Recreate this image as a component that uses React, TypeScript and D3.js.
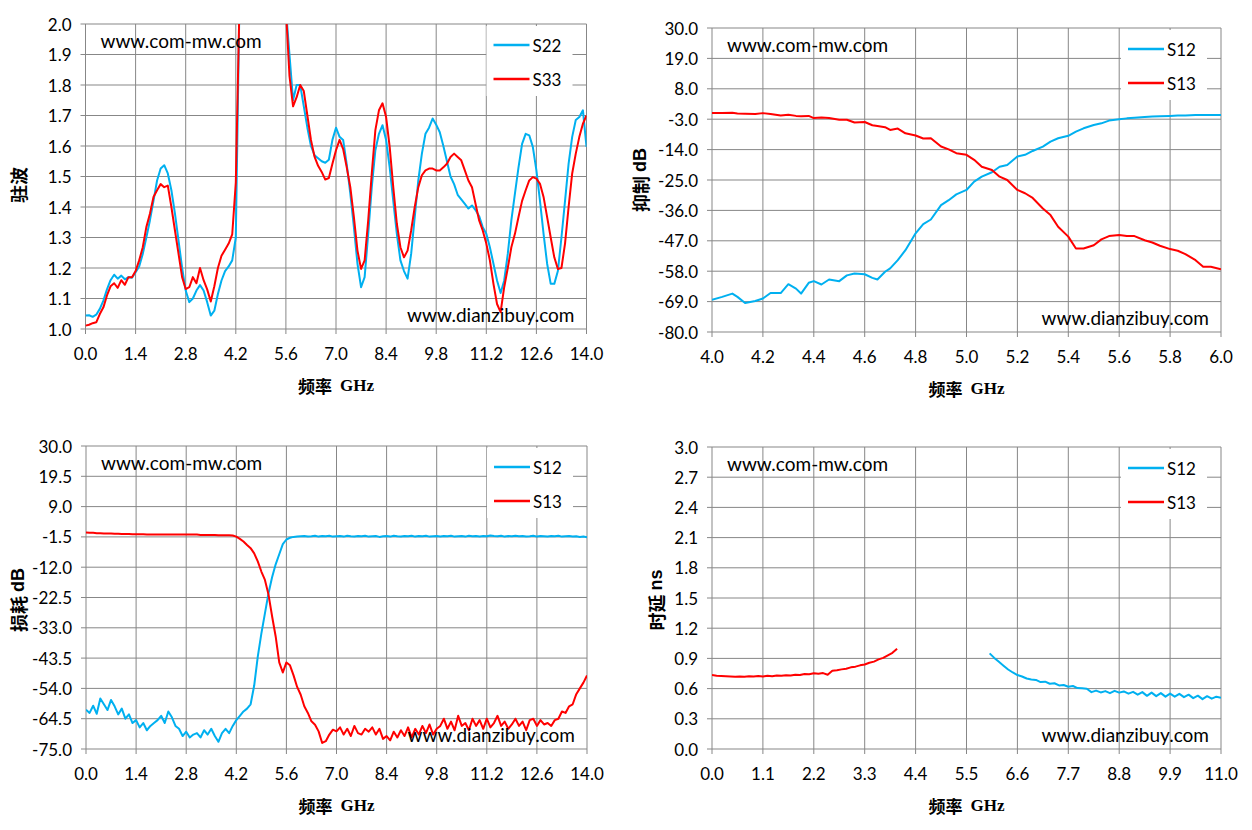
import * as d3 from "d3";

// ---------- data ----------
const BLUE = "#00B0F0";
const RED = "#FF0000";

// panel 1: VSWR 0-14 GHz, 0.1 GHz sweep
const VSWR_S22 = [
  1.044, 1.045, 1.04, 1.047, 1.066, 1.093, 1.13, 1.16, 1.178, 1.165,
  1.175, 1.163, 1.17, 1.168, 1.186, 1.205, 1.246, 1.3, 1.356, 1.42,
  1.487, 1.526, 1.537, 1.51, 1.455, 1.378, 1.29, 1.2, 1.126, 1.088,
  1.1, 1.126, 1.144, 1.126, 1.088, 1.044, 1.06, 1.115, 1.159, 1.19,
  1.205, 1.225, 1.3, 2.05,
  null, null, null, null, null, null, null, null, null, null, null, null,
  2.05, 1.9, 1.75, 1.8, 1.8, 1.73, 1.66, 1.6, 1.57, 1.56,
  1.55, 1.545, 1.555, 1.62, 1.66, 1.63, 1.62, 1.54, 1.444, 1.334,
  1.214, 1.137, 1.17, 1.312, 1.465, 1.586, 1.64, 1.668, 1.62, 1.53,
  1.42, 1.312, 1.225, 1.19, 1.165, 1.246, 1.367, 1.487, 1.575, 1.64,
  1.66, 1.69, 1.67, 1.645, 1.6, 1.55, 1.5, 1.475, 1.44, 1.425,
  1.41, 1.395, 1.405, 1.39, 1.37, 1.334, 1.312, 1.268, 1.214, 1.159,
  1.118, 1.159, 1.246, 1.356, 1.444, 1.53, 1.607, 1.64, 1.635, 1.597,
  1.52, 1.42, 1.312, 1.214, 1.148, 1.148, 1.19, 1.3, 1.42, 1.542,
  1.63, 1.685, 1.695, 1.717, 1.597,
];
const VSWR_S33 = [
  1.011, 1.014, 1.019, 1.022, 1.049, 1.071, 1.11, 1.14, 1.15, 1.135,
  1.16, 1.145, 1.17, 1.17, 1.19, 1.225, 1.268, 1.334, 1.378, 1.433,
  1.455, 1.475, 1.465, 1.47, 1.4, 1.323, 1.246, 1.17, 1.131, 1.137,
  1.17, 1.15, 1.2, 1.16, 1.13, 1.09, 1.14, 1.2, 1.24, 1.26,
  1.28, 1.31, 1.48, 2.05,
  null, null, null, null, null, null, null, null, null, null, null, null,
  2.05, 1.83, 1.73, 1.76, 1.8, 1.78, 1.7, 1.62, 1.565, 1.535,
  1.515, 1.49, 1.495, 1.542, 1.586, 1.62, 1.59, 1.53, 1.465, 1.367,
  1.257, 1.197, 1.225, 1.356, 1.51, 1.652, 1.717, 1.74, 1.695, 1.597,
  1.465, 1.345, 1.268, 1.235, 1.257, 1.323, 1.4, 1.465, 1.504, 1.52,
  1.526, 1.526, 1.52, 1.52, 1.53, 1.542, 1.564, 1.575, 1.564, 1.553,
  1.52, 1.487, 1.465, 1.41, 1.356, 1.323, 1.28, 1.225, 1.148, 1.082,
  1.055, 1.137, 1.2, 1.268, 1.312, 1.367, 1.42, 1.455, 1.487, 1.498,
  1.493, 1.476, 1.433, 1.367, 1.3, 1.235, 1.197, 1.2, 1.28, 1.4,
  1.51, 1.575, 1.63, 1.673, 1.7,
];

// panel 2: rejection 4-6 GHz (irregular read points)
const REJ_FREQ = [
  4.0, 4.04, 4.08, 4.1, 4.13, 4.17, 4.2, 4.23, 4.27, 4.3,
  4.33, 4.35, 4.38, 4.4, 4.43, 4.46, 4.5, 4.53, 4.56, 4.6,
  4.63, 4.65, 4.68, 4.7, 4.73, 4.76, 4.8, 4.83, 4.86, 4.9,
  4.93, 4.96, 5.0, 5.03, 5.06, 5.1, 5.13, 5.16, 5.2, 5.23,
  5.26, 5.3, 5.33, 5.36, 5.4, 5.43, 5.46, 5.5, 5.53, 5.56,
  5.6, 5.63, 5.66, 5.7, 5.73, 5.76, 5.8, 5.83, 5.86, 5.9,
  5.93, 5.96, 6.0,
];
const REJ_S12 = [
  -68.3, -67.3, -66.1, -67.3, -69.5, -68.8, -67.9, -65.9, -65.9, -62.7,
  -64.3, -66.1, -62.2, -61.6, -62.8, -61.0, -61.6, -59.5, -58.8, -59.1,
  -60.4, -61.0, -58.2, -57.0, -54.0, -50.4, -44.3, -41.0, -39.3, -34.1,
  -32.3, -30.2, -28.6, -25.6, -23.8, -22.2, -20.2, -19.6, -16.5, -15.9,
  -14.5, -12.9, -11.1, -9.9, -9.0, -7.5, -6.3, -5.1, -4.5, -3.5,
  -3.0, -2.7, -2.5, -2.2, -2.0, -1.9, -1.8, -1.7, -1.7, -1.5,
  -1.5, -1.5, -1.5,
];
const REJ_S13 = [
  -0.8, -0.8, -0.7, -0.9, -1.0, -1.1, -0.8, -1.1, -1.7, -1.4,
  -1.8, -1.9, -1.8, -2.6, -2.4, -2.6, -3.2, -3.2, -4.2, -4.0,
  -5.2, -5.5, -5.9, -6.9, -6.4, -8.1, -8.9, -10.0, -9.9, -12.9,
  -13.9, -15.3, -15.9, -17.7, -20.2, -21.4, -23.8, -25.0, -28.6, -29.8,
  -31.5, -35.3, -37.7, -41.9, -45.5, -49.8, -49.8, -48.6, -46.5, -45.3,
  -44.9, -45.3, -45.3, -46.8, -47.6, -48.8, -50.0, -50.6, -51.8, -54.0,
  -56.4, -56.4, -57.3,
];

// panel 3: insertion loss 0-14 GHz, 0.1 GHz sweep
const LOSS_S12 = [
  -61.4, -62.5, -60.0, -62.8, -57.5, -59.5, -61.5, -58.0, -60.2, -63.0,
  -61.0, -64.5, -63.0, -66.0, -65.0, -67.5, -66.0, -68.5, -67.0, -66.0,
  -65.0, -63.5, -66.0, -62.0, -64.0, -67.0, -68.0, -70.5, -69.0, -71.0,
  -70.0, -69.5, -71.0, -68.5, -70.0, -68.0, -70.5, -72.5, -69.5, -68.0,
  -69.5, -67.0, -65.0, -63.5, -62.0, -61.0, -59.5, -53.0, -43.0, -35.0,
  -28.0, -21.0, -15.5, -11.0, -7.5, -4.0, -2.4, -1.8, -1.5, -1.4,
  -1.3, -1.2, -1.4, -1.3, -1.1, -1.4, -1.2, -1.3, -1.1, -1.4,
  -1.3, -1.2, -1.4, -1.1, -1.3, -1.4, -1.2, -1.3, -1.1, -1.4,
  -1.3, -1.2, -1.5, -1.3, -1.2, -1.4, -1.1, -1.3, -1.4, -1.2,
  -1.3, -1.1, -1.4, -1.2, -1.3, -1.1, -1.4, -1.3, -1.2, -1.4,
  -1.2, -1.3, -1.1, -1.4, -1.3, -1.2, -1.4, -1.1, -1.3, -1.2,
  -1.4, -1.2, -1.3, -1.0, -1.2, -1.3, -1.1, -1.4, -1.2, -1.3,
  -1.1, -1.3, -1.2, -1.4, -1.3, -1.1, -1.4, -1.2, -1.3, -1.4,
  -1.2, -1.3, -1.1, -1.4, -1.3, -1.2, -1.4, -1.3, -1.5, -1.4,
  -1.6,
];
const LOSS_S13 = [
  0.0, -0.1, -0.1, -0.2, -0.2, -0.3, -0.3, -0.3, -0.4, -0.4,
  -0.5, -0.5, -0.5, -0.6, -0.6, -0.6, -0.6, -0.7, -0.7, -0.7,
  -0.7, -0.7, -0.7, -0.7, -0.7, -0.7, -0.7, -0.7, -0.7, -0.7,
  -0.7, -0.7, -0.8, -0.8, -0.8, -0.8, -0.8, -0.9, -0.9, -0.9,
  -0.9, -1.0, -1.4, -2.2, -3.1, -4.3, -5.4, -7.2, -10.0, -13.5,
  -16.4, -21.5, -29.0, -36.0, -45.0, -48.5, -45.0, -46.0, -49.5, -53.5,
  -56.2, -60.2, -62.5, -65.4, -66.6, -68.9, -72.9, -72.3, -70.0, -68.3,
  -68.9, -67.5, -70.0, -68.0, -70.5, -67.0, -69.5, -70.0, -68.0, -69.0,
  -67.5, -70.0, -68.0, -71.5, -70.5, -72.0, -69.0, -71.0, -68.5, -70.5,
  -67.5, -71.0, -68.0, -70.0, -67.0, -69.5, -66.5, -70.0, -68.0, -67.0,
  -64.5, -68.0, -65.5, -68.5, -63.5, -67.0, -66.0, -68.5, -64.5, -67.0,
  -65.0, -68.0, -64.5, -67.5, -66.0, -63.5, -67.0, -65.5, -68.0, -66.5,
  -64.5, -67.0, -65.5, -68.5, -65.0, -64.5, -67.0, -65.0, -66.5, -66.0,
  -67.0, -65.0, -64.5, -62.0, -62.5, -60.2, -59.5, -56.0, -54.0, -52.0,
  -49.5,
];

// panel 4: group delay, 0.1 GHz sweep
const DELAY_S13 = [
  0.735, 0.728, 0.725, 0.722, 0.72, 0.718, 0.72, 0.718, 0.722, 0.72,
  0.724, 0.72, 0.727, 0.723, 0.73, 0.727, 0.733, 0.73, 0.738, 0.735,
  0.745, 0.742, 0.752, 0.748, 0.754, 0.738, 0.778, 0.782, 0.791, 0.798,
  0.811, 0.818, 0.831, 0.84, 0.857, 0.868, 0.89, 0.905, 0.93, 0.955,
  0.995,
];
const DELAY_S12 = [
  0.95, 0.905, 0.867, 0.828, 0.79, 0.76, 0.735, 0.72, 0.7, 0.69,
  0.686, 0.665, 0.669, 0.648, 0.653, 0.632, 0.636, 0.618, 0.626, 0.605,
  0.603, 0.598, 0.565, 0.58, 0.562, 0.575, 0.555, 0.578, 0.56, 0.572,
  0.55, 0.568, 0.54, 0.565, 0.528, 0.56, 0.525, 0.555, 0.52, 0.55,
  0.52, 0.548, 0.515, 0.54, 0.505, 0.53, 0.495, 0.525, 0.5, 0.52,
  0.51,
];

// tick labels
const X_TICKS_14 = ["0.0", "1.4", "2.8", "4.2", "5.6", "7.0", "8.4", "9.8", "11.2", "12.6", "14.0"];
const X_TICKS_6 = ["4.0", "4.2", "4.4", "4.6", "4.8", "5.0", "5.2", "5.4", "5.6", "5.8", "6.0"];
const X_TICKS_11 = ["0.0", "1.1", "2.2", "3.3", "4.4", "5.5", "6.6", "7.7", "8.8", "9.9", "11.0"];
const Y_TICKS_VSWR = ["1.0", "1.1", "1.2", "1.3", "1.4", "1.5", "1.6", "1.7", "1.8", "1.9", "2.0"];
const Y_TICKS_REJ = ["-80.0", "-69.0", "-58.0", "-47.0", "-36.0", "-25.0", "-14.0", "-3.0", "8.0", "19.0", "30.0"];
const Y_TICKS_LOSS = ["-75.0", "-64.5", "-54.0", "-43.5", "-33.0", "-22.5", "-12.0", "-1.5", "9.0", "19.5", "30.0"];
const Y_TICKS_DELAY = ["0.0", "0.3", "0.6", "0.9", "1.2", "1.5", "1.8", "2.1", "2.4", "2.7", "3.0"];

// ---------- helpers ----------
type Pt = { f: number; v: number | null };
type Series = { name: string; color: string; pts: Pt[] };

const sweep = (start: number, step: number, vals: (number | null)[]): Pt[] =>
  vals.map((v, i) => ({ f: start + i * step, v }));
const pairs = (fs: number[], vals: number[]): Pt[] => vals.map((v, i) => ({ f: fs[i], v }));

const FONT = "Lato, 'Liberation Sans', sans-serif";
const GRID = "#878787";

type PanelProps = {
  id: string;
  left: number;
  top: number;
  right: number;
  bottom: number;
  xLabels: string[];
  yLabels: string[];
  series: Series[];
  yTitle: string;
  yUnit?: string;
  yTitleX: number;
  yTitleY: number;
};

const Panel = ({ id, left, top, right, bottom, xLabels, yLabels, series, yTitle, yUnit, yTitleX, yTitleY }: PanelProps) => {
  const xVals = xLabels.map(Number);
  const yVals = yLabels.map(Number);
  const x = d3.scaleLinear().domain(d3.extent(xVals) as [number, number]).range([left, right]);
  const y = d3.scaleLinear().domain(d3.extent(yVals) as [number, number]).range([bottom, top]);

  const line = d3
    .line<Pt>()
    .defined((d) => d.v !== null)
    .x((d) => x(d.f))
    .y((d) => y(d.v as number));

  const cx = (left + right) / 2;

  return (
    <g>
      <defs>
        <clipPath id={id}>
          <rect x={left} y={top} width={right - left} height={bottom - top} />
        </clipPath>
      </defs>

      {/* grid */}
      {yVals.map((v, i) => (
        <line key={"gy" + i} x1={left - 5} x2={right} y1={y(v)} y2={y(v)} stroke={GRID} strokeWidth={1} />
      ))}
      {xVals.map((v, i) => (
        <line key={"gx" + i} x1={x(v)} x2={x(v)} y1={top} y2={bottom + 5} stroke={GRID} strokeWidth={1} />
      ))}

      {/* tick labels */}
      {yVals.map((v, i) => (
        <text key={"ly" + i} x={left - 14} y={y(v)} textAnchor="end" dominantBaseline="central" fontSize={17} fontFamily={FONT} fill="#000">
          {yLabels[i]}
        </text>
      ))}
      {xVals.map((v, i) => (
        <text key={"lx" + i} x={x(v)} y={bottom + 24} textAnchor="middle" dominantBaseline="central" fontSize={17} fontFamily={FONT} fill="#000">
          {xLabels[i]}
        </text>
      ))}

      {/* legend box */}
      <rect x={right - 100} y={top + 2} width={86} height={70} fill="#fff" />

      {/* curves */}
      <g clipPath={`url(#${id})`}>
        {series.map((s) => (
          <path key={s.name} d={line(s.pts) ?? ""} fill="none" stroke={s.color} strokeWidth={2} strokeLinejoin="round" />
        ))}
      </g>

      {/* legend */}
      {series.map((s, i) => (
        <g key={"lg" + s.name}>
          <line x1={right - 93} x2={right - 57} y1={top + 21 + i * 34} y2={top + 21 + i * 34} stroke={s.color} strokeWidth={2.5} />
          <text x={right - 54} y={top + 21 + i * 34} dominantBaseline="central" fontSize={17} fontFamily={FONT} fill="#000">
            {s.name}
          </text>
        </g>
      ))}

      {/* watermarks */}
      <text x={left + 15} y={top + 16} dominantBaseline="central" fontSize={19} fontFamily={FONT} fill="#000">
        www.com-mw.com
      </text>
      <text x={right - 12} y={bottom - 15} textAnchor="end" dominantBaseline="central" fontSize={19} fontFamily={FONT} fill="#000">
        www.dianzibuy.com
      </text>

      {/* axis titles */}
      <text x={cx} y={bottom + 56} textAnchor="middle" dominantBaseline="central" fontSize={17} fontWeight="bold" fill="#000">
        <tspan fontFamily="'Noto Sans CJK SC', sans-serif">频率</tspan>
        <tspan fontFamily="'Liberation Serif', serif" dx={8}>GHz</tspan>
      </text>
      <text
        transform={`translate(${yTitleX},${yTitleY}) rotate(-90)`}
        textAnchor="middle"
        dominantBaseline="central"
        fontSize={18}
        fontWeight="bold"
        fill="#000"
      >
        <tspan fontFamily="'Noto Sans CJK SC', sans-serif">{yTitle}</tspan>
        {yUnit && (
          <tspan fontFamily="'Liberation Sans', sans-serif" dx={4}>
            {yUnit}
          </tspan>
        )}
      </text>
    </g>
  );
};

export default function App() {
  const vswr: Series[] = [
    { name: "S22", color: BLUE, pts: sweep(0, 0.1, VSWR_S22) },
    { name: "S33", color: RED, pts: sweep(0, 0.1, VSWR_S33) },
  ];
  const rej: Series[] = [
    { name: "S12", color: BLUE, pts: pairs(REJ_FREQ, REJ_S12) },
    { name: "S13", color: RED, pts: pairs(REJ_FREQ, REJ_S13) },
  ];
  const loss: Series[] = [
    { name: "S12", color: BLUE, pts: sweep(0, 0.1, LOSS_S12) },
    { name: "S13", color: RED, pts: sweep(0, 0.1, LOSS_S13) },
  ];
  const delay: Series[] = [
    { name: "S12", color: BLUE, pts: sweep(6, 0.1, DELAY_S12) },
    { name: "S13", color: RED, pts: sweep(0, 0.1, DELAY_S13) },
  ];

  return (
    <svg width={1252} height={830} style={{ position: "absolute", left: 0, top: 0, background: "#fff" }}>
      <rect width={1252} height={830} fill="#fff" />
      <Panel id="c1" left={85.5} top={24} right={586.5} bottom={329} xLabels={X_TICKS_14} yLabels={Y_TICKS_VSWR} series={vswr} yTitle="驻波" yTitleX={18} yTitleY={185} />
      <Panel id="c2" left={712} top={28} right={1221} bottom={332} xLabels={X_TICKS_6} yLabels={Y_TICKS_REJ} series={rej} yTitle="抑制" yUnit="dB" yTitleX={640} yTitleY={180} />
      <Panel id="c3" left={86} top={446} right={587} bottom={749} xLabels={X_TICKS_14} yLabels={Y_TICKS_LOSS} series={loss} yTitle="损耗" yUnit="dB" yTitleX={18} yTitleY={600} />
      <Panel id="c4" left={712} top={447} right={1221} bottom={749} xLabels={X_TICKS_11} yLabels={Y_TICKS_DELAY} series={delay} yTitle="时延" yUnit="ns" yTitleX={656} yTitleY={600} />
    </svg>
  );
}
